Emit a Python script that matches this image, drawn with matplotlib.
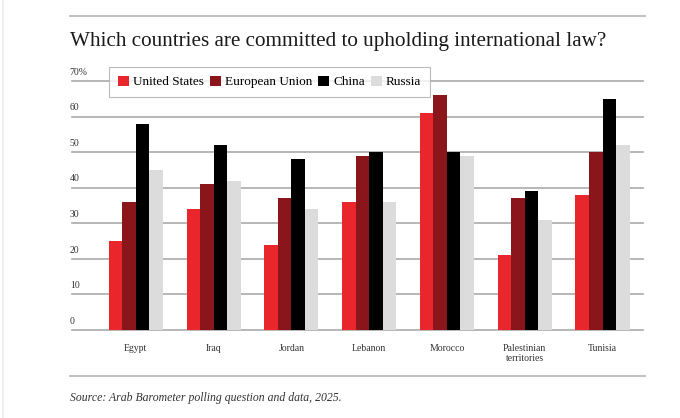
import matplotlib
matplotlib.use("Agg")
import matplotlib.pyplot as plt
import numpy as np
from matplotlib.patches import Patch
from matplotlib.lines import Line2D

categories = ["Egypt", "Iraq", "Jordan", "Lebanon", "Morocco", "Palestinian\nterritories", "Tunisia"]
series_names = ["United States", "European Union", "China", "Russia"]
us = [25, 34, 24, 36, 61, 21, 38]
eu = [36, 41, 37, 49, 66, 37, 50]
china = [58, 52, 48, 50, 50, 39, 65]
russia = [45, 42, 34, 36, 49, 31, 52]
y_ticks = [0, 10, 20, 30, 40, 50, 60, 70]
y_tick_labels = ["0", "10", "20", "30", "40", "50", "60", "70%"]

colors = ["#E8262B", "#8A161C", "#000000", "#DCDCDC"]
serif = ["Liberation Serif", "DejaVu Serif"]

fig = plt.figure(figsize=(6.8, 4.18), dpi=100)
W, H = 680, 418
ax = fig.add_axes([72 / W, 1 - 330 / H, (643 - 72) / W, (330 - 81) / H])

x = np.arange(len(categories))
bw = 0.174
data = [us, eu, china, russia]
for i, (vals, c) in enumerate(zip(data, colors)):
    ax.bar(x + (i - 1.5) * bw, vals, width=bw, color=c, zorder=3, linewidth=0)

ax.set_xlim(-0.82, 6.52)
ax.set_ylim(0, 70)
for t in y_ticks:
    ax.axhline(t, color="#AAAAAA", linewidth=1.2, zorder=1, clip_on=False)
for t, lab in zip(y_ticks, y_tick_labels):
    ax.text(-0.004, t + 1.2, lab, transform=ax.get_yaxis_transform(),
            ha="left", va="bottom", fontsize=7, family=serif, color="#333333")

for s in ax.spines.values():
    s.set_visible(False)
ax.set_yticks([])
ax.set_xticks(x)
ax.set_xticklabels(categories, fontsize=7, family=serif, color="#333333", linespacing=1.1)
ax.tick_params(axis="x", length=0, pad=10)

handles = [Patch(facecolor=c, edgecolor="none") for c in colors]
leg = ax.legend(handles, series_names, loc="upper left",
                bbox_to_anchor=((109 - 72) / (643 - 72), 1 + (81 - 67) / (330 - 81)),
                ncol=4, frameon=True, fancybox=False, prop={"family": serif, "size": 9.5},
                handlelength=0.85, handleheight=0.85, handletextpad=0.3, columnspacing=0.45,
                borderpad=0.65, borderaxespad=0)
leg.get_frame().set_edgecolor("#AAAAAA")
leg.get_frame().set_linewidth(0.8)
leg.set_zorder(5)

fig.add_artist(Line2D([70 / W, 645 / W], [1 - 16 / H, 1 - 16 / H], color="#BBBBBB", linewidth=1.3))
fig.add_artist(Line2D([70 / W, 645 / W], [1 - 376 / H, 1 - 376 / H], color="#BBBBBB", linewidth=1.3))
fig.add_artist(Line2D([3 / W, 3 / W], [0, 1], color="#EEEEEE", linewidth=1.5))

fig.text(70 / W, 1 - 46 / H, "Which countries are committed to upholding international law?",
         fontsize=15.2, family=serif, color="#1A1A1A", ha="left", va="baseline")
fig.text(70 / W, 1 - 401 / H, "Source: Arab Barometer polling question and data, 2025.",
         fontsize=8.5, family=serif, style="italic", color="#333333", ha="left", va="baseline")

fig.savefig("out.png", dpi=100)
